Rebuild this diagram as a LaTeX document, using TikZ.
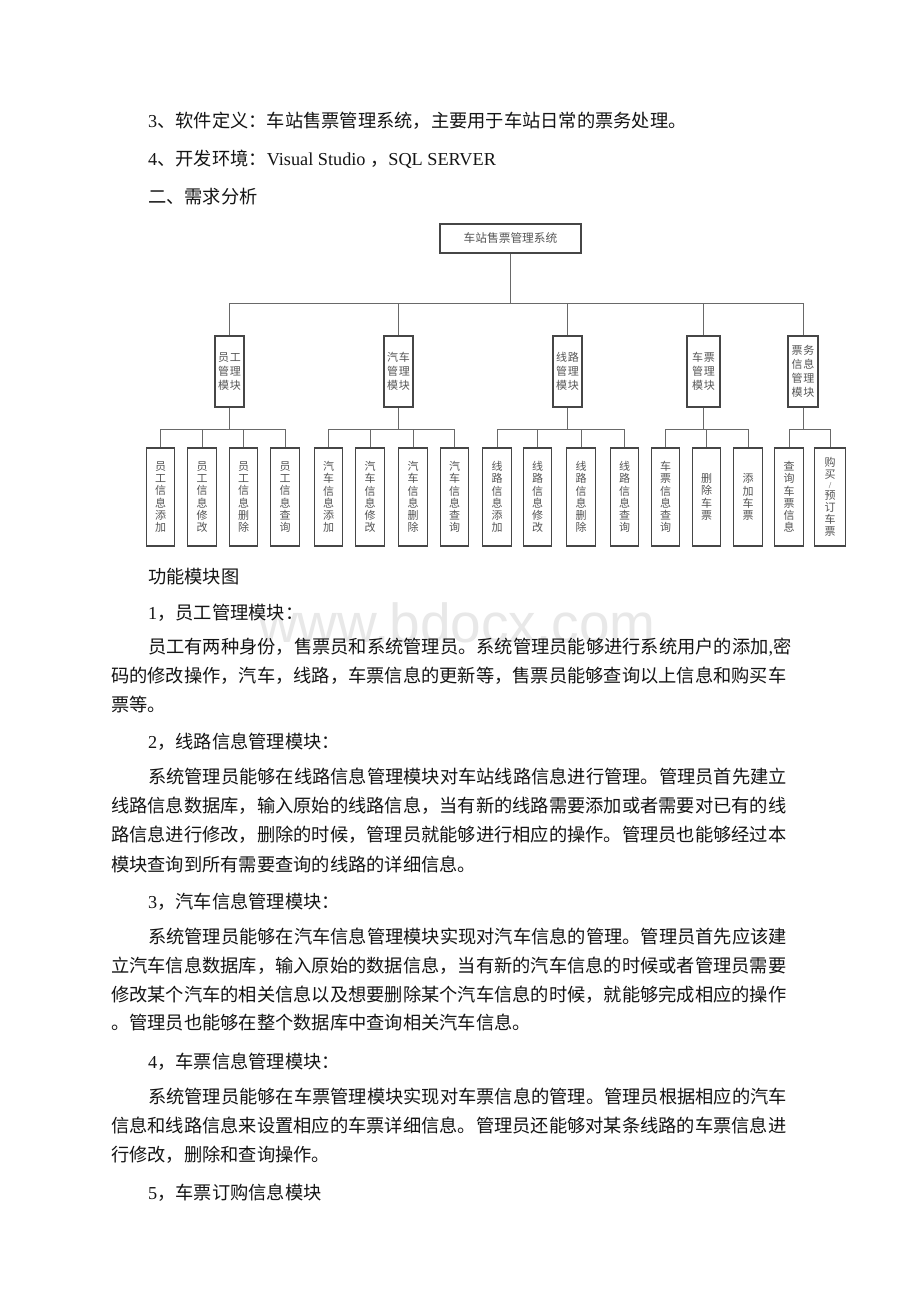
\documentclass[tikz,border=0pt]{standalone}
\usepackage{fontspec}
\setmainfont{Liberation Serif}
\newfontfamily\cjk{Noto Sans CJK SC}
\newfontfamily\wmsans{Liberation Sans}
\newcommand\C[1]{{\cjk #1}}
\newcommand\bodyfont{\fontsize{18.25}{22}\selectfont}
\newcommand\midfont{\cjk\fontsize{11}{14.2}\selectfont}
\newcommand\leaffont{\cjk\fontsize{11}{12.2}\selectfont}
\newcommand\rootfont{\cjk\fontsize{11.7}{14}\selectfont}
\definecolor{linegray}{RGB}{105,105,105}
\definecolor{boxgray}{RGB}{70,70,70}
\definecolor{textgray}{RGB}{85,85,85}
\definecolor{bodytext}{RGB}{20,20,20}
\definecolor{wmgray}{RGB}{232,232,232}
\tikzset{
  conn/.style={draw=linegray, line width=1pt},
  box/.style={draw=boxgray, line width=1.1pt, inner sep=0pt, fill=white, text=textgray},
  midbox/.style={box, minimum width=29, minimum height=71, font=\midfont, align=center},
  leafbox/.style={box, minimum width=28.5, minimum height=98, font=\leaffont, align=center},
  body/.style={anchor=west, inner sep=0pt, font=\bodyfont, text=bodytext},
}
\begin{document}
\begin{tikzpicture}[x=1pt, y=-1pt]
\useasboundingbox (0,0) rectangle (920,1302);
\fill[white] (0,0) rectangle (920,1302);

% watermark
\node[anchor=base west, inner sep=0pt, font=\wmsans\fontsize{55}{60}\selectfont, text=wmgray] (wm) at (258,642) {www.bdocx.com};

% header text
\node[body] (h3) at (148,121) {3\C{、软件定义：车站售票管理系统，主要用于车站日常的票务处理。}};
\node[body] (h4) at (148,159) {4\C{、开发环境：}Visual Studio \C{，}SQL SERVER};
\node[body] (h2) at (148,197) {\C{二、需求分析}};

% diagram
\node[box, minimum width=141, minimum height=29, font=\rootfont] (root) at (510.5,238.5) {车站售票管理系统};

\node[midbox] (m1) at (229.5,371.5) {员\kern0.8pt工\\管\kern0.8pt理\\模\kern0.8pt块};
\node[midbox] (m2) at (398.5,371.5) {汽\kern0.8pt车\\管\kern0.8pt理\\模\kern0.8pt块};
\node[midbox] (m3) at (567.5,371.5) {线\kern0.8pt路\\管\kern0.8pt理\\模\kern0.8pt块};
\node[midbox, minimum width=33] (m4) at (703.5,371.5) {车\kern0.8pt票\\管\kern0.8pt理\\模\kern0.8pt块};
\node[midbox, minimum width=30] (m5) at (803,371.5) {票\kern0.8pt务\\信\kern0.8pt息\\管\kern0.8pt理\\模\kern0.8pt块};

\node[leafbox] (l1) at (160.5,497) {员\\工\\信\\息\\添\\加};
\node[leafbox] (l2) at (202,497) {员\\工\\信\\息\\修\\改};
\node[leafbox] (l3) at (243.5,497) {员\\工\\信\\息\\删\\除};
\node[leafbox] (l4) at (285,497) {员\\工\\信\\息\\查\\询};
\node[leafbox] (l5) at (328.5,497) {汽\\车\\信\\息\\添\\加};
\node[leafbox] (l6) at (370,497) {汽\\车\\信\\息\\修\\改};
\node[leafbox] (l7) at (413,497) {汽\\车\\信\\息\\删\\除};
\node[leafbox] (l8) at (454.5,497) {汽\\车\\信\\息\\查\\询};
\node[leafbox] (l9) at (497,497) {线\\路\\信\\息\\添\\加};
\node[leafbox] (l10) at (537.5,497) {线\\路\\信\\息\\修\\改};
\node[leafbox] (l11) at (581,497) {线\\路\\信\\息\\删\\除};
\node[leafbox] (l12) at (624.5,497) {线\\路\\信\\息\\查\\询};
\node[leafbox] (l13) at (665.5,497) {车\\票\\信\\息\\查\\询};
\node[leafbox] (l14) at (706.5,497) {删\\除\\车\\票};
\node[leafbox] (l15) at (748,497) {添\\加\\车\\票};
\node[leafbox] (l16) at (789,497) {查\\询\\车\\票\\信\\息};
\node[leafbox, minimum width=31] (l17) at (830,497) {购\\买\\[-2pt]{\rmfamily\fontsize{9}{9}\selectfont /}\\[-2pt]预\\订\\车\\票};

\coordinate (bus) at (0,303);
\coordinate (lbus) at (0,429);

\draw[conn] (root.south) -- (root.south |- bus);
\draw[conn] (m1.north |- bus) -- (m5.north |- bus);
\foreach \m in {m1,m2,m3,m4,m5} {
  \draw[conn] (\m.north) -- (\m.north |- bus);
  \draw[conn] (\m.south) -- (\m.south |- lbus);
}
\draw[conn] (l1.north |- lbus) -- (l4.north |- lbus);
\draw[conn] (l5.north |- lbus) -- (l8.north |- lbus);
\draw[conn] (l9.north |- lbus) -- (l12.north |- lbus);
\draw[conn] (l13.north |- lbus) -- (l15.north |- lbus);
\draw[conn] (l16.north |- lbus) -- (l17.north |- lbus);
\foreach \l in {l1,l2,l3,l4,l5,l6,l7,l8,l9,l10,l11,l12,l13,l14,l15,l16,l17} {
  \draw[conn] (\l.north) -- (\l.north |- lbus);
}

% body text
\node[body] (cap) at (148,577) {\C{功能模块图}};
\node[body] (s1) at (148,613) {1\C{，员工管理模块：}};
\node[body] (p11) at (148,647) {\C{员工有两种身份，售票员和系统管理员。系统管理员能够进行系统用户的添加},\C{密}};
\node[body] (p12) at (111,676) {\C{码的修改操作，汽车，线路，车票信息的更新等，售票员能够查询以上信息和购买车}};
\node[body] (p13) at (111,705) {\C{票等。}};

\node[body] (s2) at (148,742) {2\C{，线路信息管理模块：}};
\node[body] (p21) at (148,777) {\C{系统管理员能够在线路信息管理模块对车站线路信息进行管理。管理员首先建立}};
\node[body] (p22) at (111,806) {\C{线路信息数据库，输入原始的线路信息，当有新的线路需要添加或者需要对已有的线}};
\node[body] (p23) at (111,835) {\C{路信息进行修改，删除的时候，管理员就能够进行相应的操作。管理员也能够经过本}};
\node[body] (p24) at (111,864) {\C{模块查询到所有需要查询的线路的详细信息。}};

\node[body] (s3) at (148,902) {3\C{，汽车信息管理模块：}};
\node[body] (p31) at (148,937) {\C{系统管理员能够在汽车信息管理模块实现对汽车信息的管理。管理员首先应该建}};
\node[body] (p32) at (111,966) {\C{立汽车信息数据库，输入原始的数据信息，当有新的汽车信息的时候或者管理员需要}};
\node[body] (p33) at (111,995) {\C{修改某个汽车的相关信息以及想要删除某个汽车信息的时候，就能够完成相应的操作}};
\node[body] (p34) at (111,1023) {\C{。管理员也能够在整个数据库中查询相关汽车信息。}};

\node[body] (s4) at (148,1062) {4\C{，车票信息管理模块：}};
\node[body] (p41) at (148,1097) {\C{系统管理员能够在车票管理模块实现对车票信息的管理。管理员根据相应的汽车}};
\node[body] (p42) at (111,1126) {\C{信息和线路信息来设置相应的车票详细信息。管理员还能够对某条线路的车票信息进}};
\node[body] (p43) at (111,1155) {\C{行修改，删除和查询操作。}};

\node[body] (s5) at (148,1193) {5\C{，车票订购信息模块}};
\end{tikzpicture}
\end{document}
